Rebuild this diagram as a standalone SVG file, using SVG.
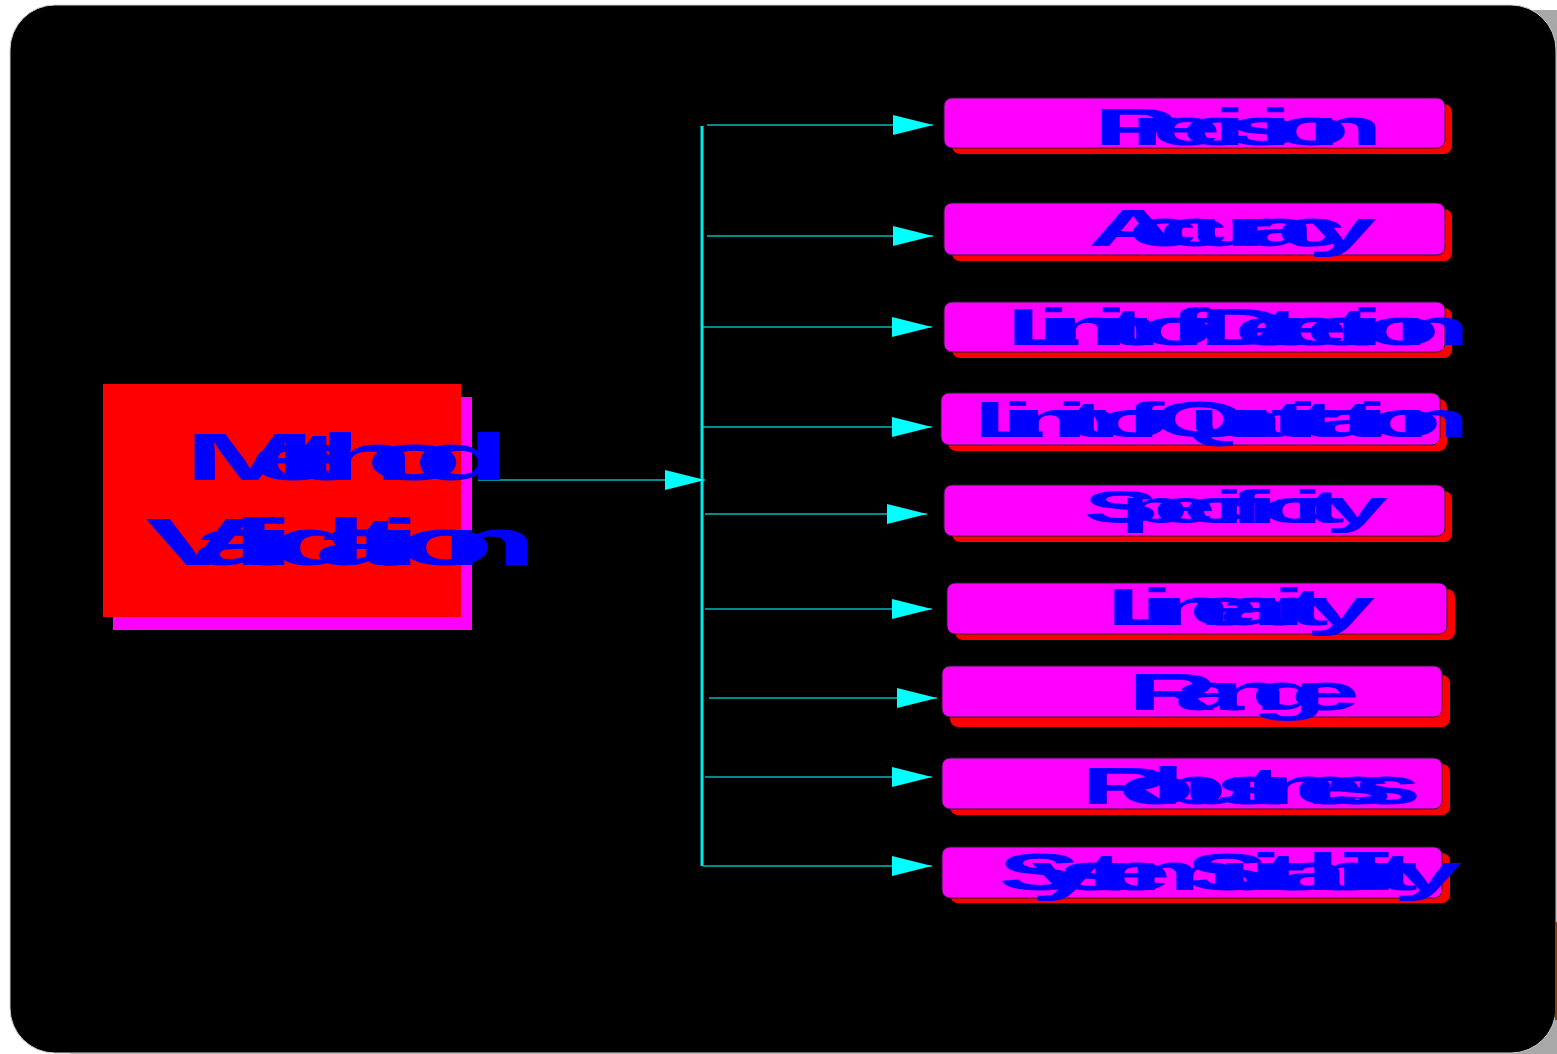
<svg xmlns="http://www.w3.org/2000/svg" width="1557" height="1054" viewBox="0 0 1557 1054">
  <defs>
    <style>
      .lbl { font-family: "Liberation Sans", Arial, sans-serif; font-weight: bold; fill: #0000ff; }
      .box { fill: #ff00ff; stroke: #222222; stroke-width: 1; }
      .shadow { fill: #ff0000; }
      .branch { stroke: #00b8b8; stroke-width: 1.5; fill: none; }
      .trunk { stroke: #00e8e8; stroke-width: 3; fill: none; }
    </style>
    <marker id="arrow" markerUnits="userSpaceOnUse" markerWidth="40" markerHeight="20" refX="40" refY="10" orient="auto" viewBox="0 0 40 20">
      <path d="M0,0 L40,10 L0,20 Z" fill="#00ffff"/>
    </marker>
  </defs>

  <!-- background panel -->
  <rect x="60" y="10" width="1546" height="1060" rx="45" fill="#a8a8a8"/>
  <rect x="10" y="5" width="1546" height="1048" rx="45" fill="#000000" stroke="#d0d0d0" stroke-width="1"/>
  <rect x="1555" y="922" width="2" height="98" fill="#7b3f12"/>

  <!-- connectors -->
  <g id="connectors">
    <line class="trunk" x1="702" y1="126" x2="702" y2="866"/>
    <line class="branch" x1="478" y1="480" x2="705" y2="480" marker-end="url(#arrow)"/>
    <line class="branch" x1="707" y1="125" x2="933" y2="125" marker-end="url(#arrow)"/>
    <line class="branch" x1="707" y1="236" x2="933" y2="236" marker-end="url(#arrow)"/>
    <line class="branch" x1="703" y1="327" x2="932" y2="327" marker-end="url(#arrow)"/>
    <line class="branch" x1="703" y1="427" x2="932" y2="427" marker-end="url(#arrow)"/>
    <line class="branch" x1="705" y1="514" x2="927" y2="514" marker-end="url(#arrow)"/>
    <line class="branch" x1="705" y1="609" x2="932" y2="609" marker-end="url(#arrow)"/>
    <line class="branch" x1="709" y1="698" x2="937" y2="698" marker-end="url(#arrow)"/>
    <line class="branch" x1="705" y1="777" x2="932" y2="777" marker-end="url(#arrow)"/>
    <line class="branch" x1="703" y1="866" x2="932" y2="866" marker-end="url(#arrow)"/>
  </g>

  <!-- main node -->
  <g id="node-method-validation">
    <rect x="113" y="397" width="359" height="233" fill="#ff00ff"/>
    <rect x="103" y="384" width="358" height="233" fill="#ff0000"/>
    <text class="lbl" font-size="66" transform="translate(184,480) scale(2.4,1)" x="0 27.06 45.11 55.93 75.78 95.62" y="0">Method</text>
    <text class="lbl" font-size="66" transform="translate(145,565) scale(2.4,1)" x="0 19.70 36.13 44.34 52.55 70.60 87.02 96.86 105.07 123.12" y="0">Validation</text>
  </g>

  <g id="node-precision">
    <rect class="shadow" x="952" y="104" width="500" height="50" rx="8"/>
    <rect class="box" x="944" y="98" width="501" height="50" rx="8"/>
    <text class="lbl" font-size="52" transform="translate(1093.5,145) scale(2.4,1)" x="0 15.25 24.14 36.85 49.56 55.92 68.63 74.98 88.95" y="0">Precision</text>
  </g>

  <g id="node-accuracy">
    <rect class="shadow" x="952" y="209" width="500" height="52" rx="8"/>
    <rect class="box" x="944" y="203" width="501" height="52" rx="8"/>
    <text class="lbl" font-size="52" transform="translate(1088,246) scale(2.4,1)" x="0 16.74 29.62 42.51 56.68 65.69 78.58 91.47" y="0">Accuracy</text>
  </g>

  <g id="node-lod">
    <rect class="shadow" x="952" y="308" width="500" height="50" rx="8"/>
    <rect class="box" x="944" y="302" width="501" height="50" rx="8"/>
    <text class="lbl" font-size="52" transform="translate(1006,345) scale(2.4,1)" x="0 12.60 18.34 36.68 42.42 49.29 55.02 67.62 74.50 80.23 95.13 106.59 113.47 124.94 136.41 143.28 149.01 161.62" y="0">Limit of Detection</text>
  </g>

  <g id="node-loq">
    <rect class="shadow" x="948" y="399" width="499" height="52" rx="8"/>
    <rect class="box" x="941" y="393" width="499" height="52" rx="8"/>
    <text class="lbl" font-size="50" transform="translate(973,437) scale(2.4,1)" x="0 11.76 17.11 34.23 39.58 45.99 51.34 63.10 69.51 74.86 89.84 101.60 112.30 124.07 130.48 135.83 142.24 152.94 159.35 164.70 176.46" y="0">Limit of Quantitation</text>
  </g>

  <g id="node-specificity">
    <rect class="shadow" x="952" y="491" width="500" height="51" rx="8"/>
    <rect class="box" x="944" y="485" width="501" height="51" rx="8"/>
    <text class="lbl" font-size="47" transform="translate(1083.5,523) scale(2.4,1)" x="0 15.11 28.96 41.56 54.16 60.46 68.00 74.30 86.90 93.20 100.75" y="0">Specificity</text>
  </g>

  <g id="node-linearity">
    <rect class="shadow" x="955" y="589" width="500" height="51" rx="8"/>
    <rect class="box" x="947" y="583" width="500" height="51" rx="8"/>
    <text class="lbl" font-size="52" transform="translate(1106,625) scale(2.4,1)" x="0 14.07 20.47 34.55 47.35 60.15 69.11 75.52 83.18" y="0">Linearity</text>
  </g>

  <g id="node-range">
    <rect class="shadow" x="950" y="675" width="500" height="52" rx="8"/>
    <rect class="box" x="942" y="666" width="500" height="51" rx="8"/>
    <text class="lbl" font-size="52" transform="translate(1127.5,710) scale(2.4,1)" x="0 19.63 34.75 51.36 67.98" y="0">Range</text>
  </g>

  <g id="node-robustness">
    <rect class="shadow" x="950" y="764" width="500" height="51" rx="8"/>
    <rect class="box" x="942" y="758" width="500" height="51" rx="8"/>
    <text class="lbl" font-size="52" transform="translate(1080.5,804) scale(2.4,1)" x="0 15.83 29.23 42.63 56.03 68.22 75.53 88.93 101.12 113.31" y="0">Robustness</text>
  </g>

  <g id="node-system-suitability">
    <rect class="shadow" x="950" y="853" width="500" height="50" rx="8"/>
    <rect class="box" x="942" y="847" width="500" height="51" rx="8"/>
    <text class="lbl" font-size="52" transform="translate(998,890) scale(2.4,1)" x="0 13.61 24.96 36.31 43.11 54.45 72.60 78.27 91.89 104.36 110.03 116.83 128.17 140.64 146.32 151.99 157.67 164.46" y="0">System Suitability</text>
  </g>
</svg>
